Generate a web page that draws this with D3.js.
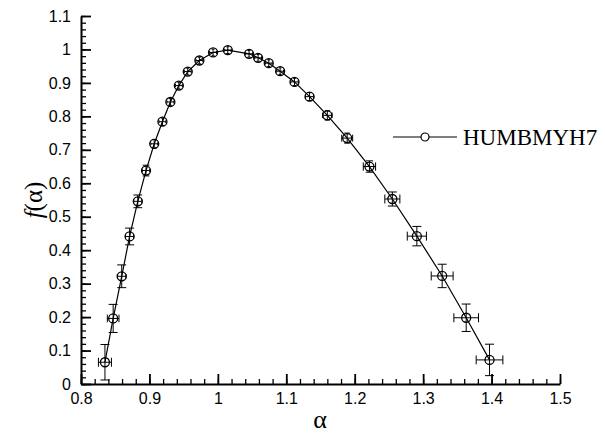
<!DOCTYPE html>
<html>
<head>
<meta charset="utf-8">
<script src="https://cdn.jsdelivr.net/npm/d3@7"></script>
<style>
  body { margin: 0; background: #fff; }
  svg { display: block; }
</style>
</head>
<body>
<svg width="605" height="435"></svg>
<script>
// values
const alpha = [0.835, 0.847, 0.8595, 0.871, 0.883, 0.895, 0.907, 0.919, 0.9306, 0.943,
    0.956, 0.973, 0.993, 1.0145, 1.0456, 1.0588, 1.0744, 1.091, 1.112, 1.134,
    1.160, 1.189, 1.2215, 1.255, 1.2908, 1.3278, 1.3629, 1.397];
const fAlpha = [0.065, 0.196, 0.322, 0.441, 0.546, 0.638, 0.718, 0.784, 0.843, 0.892,
    0.934, 0.967, 0.991, 0.998, 0.987, 0.975, 0.959, 0.935, 0.903, 0.859,
    0.803, 0.735, 0.650, 0.553, 0.442, 0.323, 0.198, 0.072];
const errAlpha = [0.0095, 0.0085, 0.0063, 0.006, 0.006, 0.0055, 0.005, 0.005, 0.005, 0.005,
    0.005, 0.005, 0.005, 0.005, 0.005, 0.005, 0.005, 0.005, 0.0055, 0.006,
    0.007, 0.008, 0.009, 0.011, 0.014, 0.016, 0.018, 0.0195];
const errF = [0.053, 0.042, 0.034, 0.025, 0.019, 0.016, 0.013, 0.011, 0.01, 0.01,
    0.01, 0.01, 0.01, 0.01, 0.01, 0.01, 0.01, 0.01, 0.011, 0.012,
    0.014, 0.015, 0.017, 0.021, 0.029, 0.035, 0.041, 0.047];
const seriesName = "HUMBMYH7";
const xTicks = [0.8, 0.9, 1.0, 1.1, 1.2, 1.3, 1.4, 1.5];
const yTicks = [0, 0.1, 0.2, 0.3, 0.4, 0.5, 0.6, 0.7, 0.8, 0.9, 1.0, 1.1];

const data = alpha.map((a, i) => ({ a: a, f: fAlpha[i], ea: errAlpha[i], ef: errF[i] }));

const svg = d3.select("svg");
const x = d3.scaleLinear().domain([0.8, 1.5]).range([81, 560]);
const y = d3.scaleLinear().domain([0, 1.1]).range([384, 16]);
const fmt = d => String(+d.toFixed(1));

const minorX = d3.range(0.8, 1.5001, 0.02);
const minorY = d3.range(0, 1.1001, 0.02);

// minor ticks
svg.append("g")
    .attr("transform", "translate(0,384)")
    .call(d3.axisBottom(x).tickValues(minorX).tickSize(-5).tickFormat(""))
    .call(g => g.select(".domain").remove())
    .selectAll("line").attr("stroke-width", 1.3);

svg.append("g")
    .attr("transform", "translate(81,0)")
    .call(d3.axisLeft(y).tickValues(minorY).tickSize(-5).tickFormat(""))
    .call(g => g.select(".domain").remove())
    .selectAll("line").attr("stroke-width", 1.3);

// major ticks + labels
const xAxis = svg.append("g")
    .attr("transform", "translate(0,384)")
    .call(d3.axisBottom(x).tickValues(xTicks).tickSize(-10).tickSizeOuter(0).tickPadding(9).tickFormat(fmt));
xAxis.select(".domain").attr("stroke-width", 2);
xAxis.selectAll("line").attr("stroke-width", 1.8);
xAxis.selectAll("text").attr("font-family", "Liberation Sans, Arial, sans-serif").attr("font-size", 16);

const yAxis = svg.append("g")
    .attr("transform", "translate(81,0)")
    .call(d3.axisLeft(y).tickValues(yTicks).tickSize(-10).tickSizeOuter(0).tickPadding(10).tickFormat(fmt));
yAxis.select(".domain").attr("stroke-width", 2);
yAxis.selectAll("line").attr("stroke-width", 1.8);
yAxis.selectAll("text").attr("font-family", "Liberation Sans, Arial, sans-serif").attr("font-size", 16);

// axis titles
svg.append("text")
    .attr("x", 320).attr("y", 428)
    .attr("text-anchor", "middle")
    .attr("font-family", "Liberation Serif, Times New Roman, serif")
    .attr("font-size", 26)
    .text("α");

const yTitle = svg.append("text")
    .attr("transform", "translate(42,200) rotate(-90)")
    .attr("text-anchor", "middle")
    .attr("font-family", "Liberation Serif, Times New Roman, serif")
    .attr("font-size", 25);
yTitle.append("tspan").attr("font-style", "italic").text("f");
yTitle.append("tspan").text("(α)");

// curve
const line = d3.line().x(d => x(d.a)).y(d => y(d.f));
svg.append("path")
    .datum(data)
    .attr("d", line)
    .attr("fill", "none")
    .attr("stroke", "#000")
    .attr("stroke-width", 1.2);

// error bars (cap half-width shrinks for bars hidden inside the symbol)
const capOf = px => Math.min(4.5, Math.max(1.5, px - 2));
const eb = svg.append("g").attr("stroke", "#000").attr("stroke-width", 1);
const pts = eb.selectAll("g").data(data).enter().append("g");
pts.each(function(d) {
    const g = d3.select(this);
    const cx = x(d.a), cy = y(d.f);
    const y0 = y(d.f - d.ef), y1 = y(d.f + d.ef);
    const x0 = x(d.a - d.ea), x1 = x(d.a + d.ea);
    const cv = capOf(y0 - cy), ch = capOf(cx - x0);
    g.append("line").attr("x1", cx).attr("x2", cx).attr("y1", y0).attr("y2", y1);
    g.append("line").attr("x1", cx - cv).attr("x2", cx + cv).attr("y1", y0).attr("y2", y0);
    g.append("line").attr("x1", cx - cv).attr("x2", cx + cv).attr("y1", y1).attr("y2", y1);
    g.append("line").attr("x1", x0).attr("x2", x1).attr("y1", cy).attr("y2", cy);
    g.append("line").attr("x1", x0).attr("x2", x0).attr("y1", cy - ch).attr("y2", cy + ch);
    g.append("line").attr("x1", x1).attr("x2", x1).attr("y1", cy - ch).attr("y2", cy + ch);
});

// symbols
svg.append("g").selectAll("circle")
    .data(data)
    .enter().append("circle")
    .attr("cx", d => x(d.a))
    .attr("cy", d => y(d.f))
    .attr("r", 4.5)
    .attr("fill", "none")
    .attr("stroke", "#000")
    .attr("stroke-width", 1.3);

// legend
const lg = svg.append("g").attr("transform", "translate(393,137)");
lg.append("line").attr("x1", 0).attr("x2", 64).attr("y1", 0).attr("y2", 0)
    .attr("stroke", "#000").attr("stroke-width", 1.2);
lg.append("circle").attr("cx", 32).attr("cy", 0).attr("r", 4)
    .attr("fill", "#fff").attr("stroke", "#000").attr("stroke-width", 1.2);
lg.append("text")
    .attr("x", 70).attr("y", 8)
    .attr("font-family", "Liberation Serif, Times New Roman, serif")
    .attr("font-size", 23)
    .text(seriesName);
</script>
</body>
</html>
